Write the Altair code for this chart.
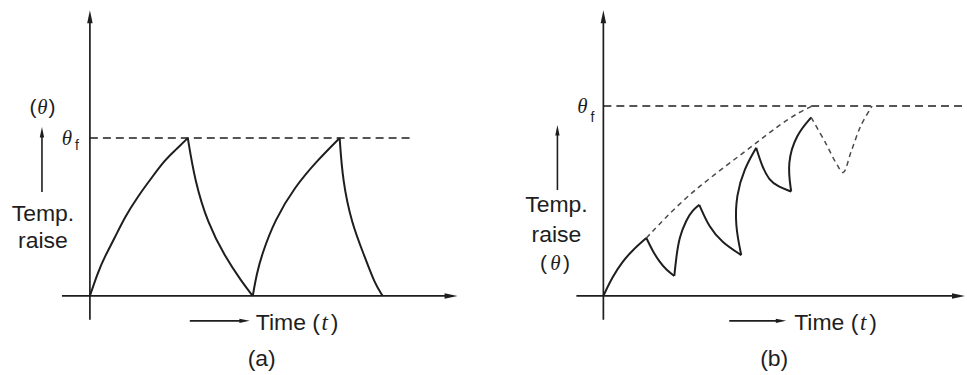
import altair as alt
import pandas as pd

# ---------------------------------------------------------------------------
# Temperature rise θ (as a fraction of the final value θf) against time t.
# ---------------------------------------------------------------------------

# (a) heating up to θf, then cooling right back to ambient, twice
A_HEAT1_T = [0.00, 0.08, 0.15, 0.25, 0.35, 0.48, 0.62, 0.75, 0.85, 0.98]
A_HEAT1_TH = [0.00, 0.15, 0.25, 0.37, 0.50, 0.63, 0.75, 0.86, 0.92, 1.00]
A_COOL1_T = [0.98, 1.05, 1.18, 1.35, 1.52, 1.63]
A_COOL1_TH = [1.00, 0.73, 0.46, 0.25, 0.09, 0.00]
A_HEAT2_T = [1.63, 1.67, 1.72, 1.85, 2.05, 2.28, 2.50]
A_HEAT2_TH = [0.00, 0.14, 0.26, 0.48, 0.69, 0.86, 1.00]
A_COOL2_T = [2.50, 2.53, 2.62, 2.75, 2.85, 2.93]
A_COOL2_TH = [1.00, 0.73, 0.46, 0.25, 0.08, 0.00]

# (b) short heating / cooling periods: temperature climbs in a saw-tooth
B_HEAT1_T = [0.00, 0.09, 0.19, 0.29, 0.43]
B_HEAT1_TH = [0.00, 0.10, 0.18, 0.24, 0.305]
B_COOL1_T = [0.43, 0.49, 0.56, 0.63, 0.71]
B_COOL1_TH = [0.305, 0.24, 0.18, 0.137, 0.105]
B_HEAT2_T = [0.71, 0.73, 0.76, 0.83, 0.89, 0.96]
B_HEAT2_TH = [0.105, 0.205, 0.31, 0.40, 0.45, 0.48]
B_COOL2_T = [0.96, 1.06, 1.19, 1.38]
B_COOL2_TH = [0.48, 0.36, 0.28, 0.215]
B_HEAT3_T = [1.38, 1.32, 1.33, 1.41, 1.53]
B_HEAT3_TH = [0.215, 0.37, 0.53, 0.67, 0.78]
B_COOL3_T = [1.53, 1.59, 1.66, 1.75, 1.88]
B_COOL3_TH = [0.78, 0.68, 0.61, 0.575, 0.55]
B_HEAT4_T = [1.88, 1.84, 1.93, 2.08]
B_HEAT4_TH = [0.55, 0.70, 0.85, 0.94]
# last cooling dip and recovery to θf
B_DIP_T = [2.08, 2.22, 2.34, 2.40, 2.48, 2.58, 2.69]
B_DIP_TH = [0.94, 0.81, 0.69, 0.65, 0.76, 0.90, 1.00]
# envelope of the peaks
B_ENV_T = [0.43, 0.79, 1.13, 1.53, 1.76, 1.96, 2.09]
B_ENV_TH = [0.305, 0.505, 0.647, 0.805, 0.90, 0.968, 1.00]

INK = "#1e1e1e"
SANS = "Liberation Sans"
SERIF = "Liberation Serif"
ONE = pd.DataFrame({"k": [0]})
UP = "M0,0L0.55,2.6L-0.55,2.6Z"
RIGHT = "M0,0L-2.6,-0.55L-2.6,0.55Z"


def frame(segments):
    rows = []
    for name, ts, ths in segments:
        for i, (t, th) in enumerate(zip(ts, ths)):
            rows.append({"seg": name, "i": i, "t": t, "theta": th})
    return pd.DataFrame(rows)


def panel(width, height, x0, y0, px_per_t, px_per_theta, solid, dashed,
          ref_end, axis_left, axis_right, labels):
    sx = alt.Scale(domain=[-x0 / px_per_t, (width - x0) / px_per_t], nice=False, zero=False)
    sy = alt.Scale(domain=[(y0 - height) / px_per_theta, y0 / px_per_theta], nice=False, zero=False)

    def xf(f):
        return alt.X(f, type="quantitative", scale=sx, axis=None)

    def yf(f):
        return alt.Y(f, type="quantitative", scale=sy, axis=None)

    def xd(v):
        return alt.XDatum(v, type="quantitative", scale=sx, axis=None)

    def yd(v):
        return alt.YDatum(v, type="quantitative", scale=sy, axis=None)

    layers = []
    # axes through the origin
    layers.append(alt.Chart(ONE).mark_rule(color=INK, strokeWidth=1.7).encode(
        x=xd(0), y=alt.value(20), y2=alt.value(320)))
    layers.append(alt.Chart(ONE).mark_rule(color=INK, strokeWidth=1.7).encode(
        y=yd(0), x=alt.value(axis_left), x2=alt.value(axis_right - 10)))
    layers.append(alt.Chart(ONE).mark_point(shape=UP, size=100, filled=True, opacity=1,
                                            color=INK, strokeWidth=0).encode(
        x=xd(0), y=alt.value(10)))
    layers.append(alt.Chart(ONE).mark_point(shape=RIGHT, size=100, filled=True, opacity=1,
                                            color=INK, strokeWidth=0).encode(
        y=yd(0), x=alt.value(axis_right)))
    # final steady temperature θf
    layers.append(alt.Chart(ONE).mark_rule(color=INK, strokeWidth=1.5, strokeDash=[8, 5]).encode(
        y=yd(1), x=xd(0), x2=alt.value(ref_end)))
    # curves
    layers.append(alt.Chart(frame(solid)).mark_line(
        color=INK, strokeWidth=2.0, interpolate="basis", strokeJoin="miter").encode(
        x=xf("t"), y=yf("theta"), detail="seg:N", order="i:Q"))
    for segs, interp in dashed:
        layers.append(alt.Chart(frame(segs)).mark_line(
            color="#4a4a4a", strokeWidth=1.5, strokeDash=[5, 4],
            interpolate=interp).encode(
            x=xf("t"), y=yf("theta"), detail="seg:N", order="i:Q"))
    layers.extend(labels)
    return alt.layer(*layers).properties(width=width, height=height)


def text(txt, x, y, size=22, font=SANS, style="normal", align="center"):
    return alt.Chart(ONE).mark_text(
        text=txt, font=font, fontSize=size, fontStyle=style, align=align,
        baseline="alphabetic", color=INK).encode(x=alt.value(x), y=alt.value(y))


def rule(x, y, x2, y2):
    return alt.Chart(ONE).mark_rule(color=INK, strokeWidth=1.6).encode(
        x=alt.value(x), y=alt.value(y), x2=alt.value(x2), y2=alt.value(y2))


def head(x, y, shape):
    return alt.Chart(ONE).mark_point(shape=shape, size=64, filled=True, opacity=1,
                                     color=INK, strokeWidth=0).encode(
        x=alt.value(x), y=alt.value(y))


labels_a = [
    text("θ", 67, 145, 21, SERIF, "italic"),
    text("f", 77, 150, 14),
    text("(", 33, 114, 21), text("θ", 42.5, 114, 21, SERIF, "italic"), text(")", 52, 114, 21),
    rule(42, 192, 42, 136), head(42, 127, UP),
    text("Temp.", 43, 221, 23), text("raise", 43, 248, 23),
    rule(190, 321, 242, 321), head(250, 321, RIGHT),
    text("Time (", 256, 330, 23, align="left"),
    text("t", 325, 330, 23, SERIF, "italic"), text(")", 335, 330, 23),
    text("(a)", 262, 366, 23),
]

labels_b = [
    text("θ", 103, 113, 21, SERIF, "italic"),
    text("f", 113, 122, 14),
    rule(78, 190, 78, 134), head(78, 125, UP),
    text("Temp.", 77, 212, 23), text("raise", 77, 242, 23),
    text("(", 64, 270, 21), text("θ", 76, 270, 21, SERIF, "italic"), text(")", 87, 270, 21),
    rule(250, 321, 299, 321), head(307, 321, RIGHT),
    text("Time (", 315, 330, 23, align="left"),
    text("t", 384, 330, 23, SERIF, "italic"), text(")", 394, 330, 23),
    text("(b)", 295, 366, 23),
]

chart_a = panel(
    480, 375, 90, 296, 100, 158,
    solid=[("h1", A_HEAT1_T, A_HEAT1_TH), ("c1", A_COOL1_T, A_COOL1_TH),
           ("h2", A_HEAT2_T, A_HEAT2_TH), ("c2", A_COOL2_T, A_COOL2_TH)],
    dashed=[],
    ref_end=415, axis_left=62, axis_right=458, labels=labels_a)

chart_b = panel(
    487, 375, 124, 296, 100, 190,
    solid=[("h1", B_HEAT1_T, B_HEAT1_TH), ("c1", B_COOL1_T, B_COOL1_TH),
           ("h2", B_HEAT2_T, B_HEAT2_TH), ("c2", B_COOL2_T, B_COOL2_TH),
           ("h3", B_HEAT3_T, B_HEAT3_TH), ("c3", B_COOL3_T, B_COOL3_TH),
           ("h4", B_HEAT4_T, B_HEAT4_TH)],
    dashed=[([("dip", B_DIP_T, B_DIP_TH)], "catmull-rom"),
            ([("env", B_ENV_T, B_ENV_TH)], "basis")],
    ref_end=487, axis_left=97, axis_right=486, labels=labels_b)

chart = alt.hconcat(chart_a, chart_b, spacing=0).properties(
    padding=0, background="white"
).configure_view(strokeWidth=0)

chart.save("out.html", embed_options={"renderer": "svg", "actions": False})
